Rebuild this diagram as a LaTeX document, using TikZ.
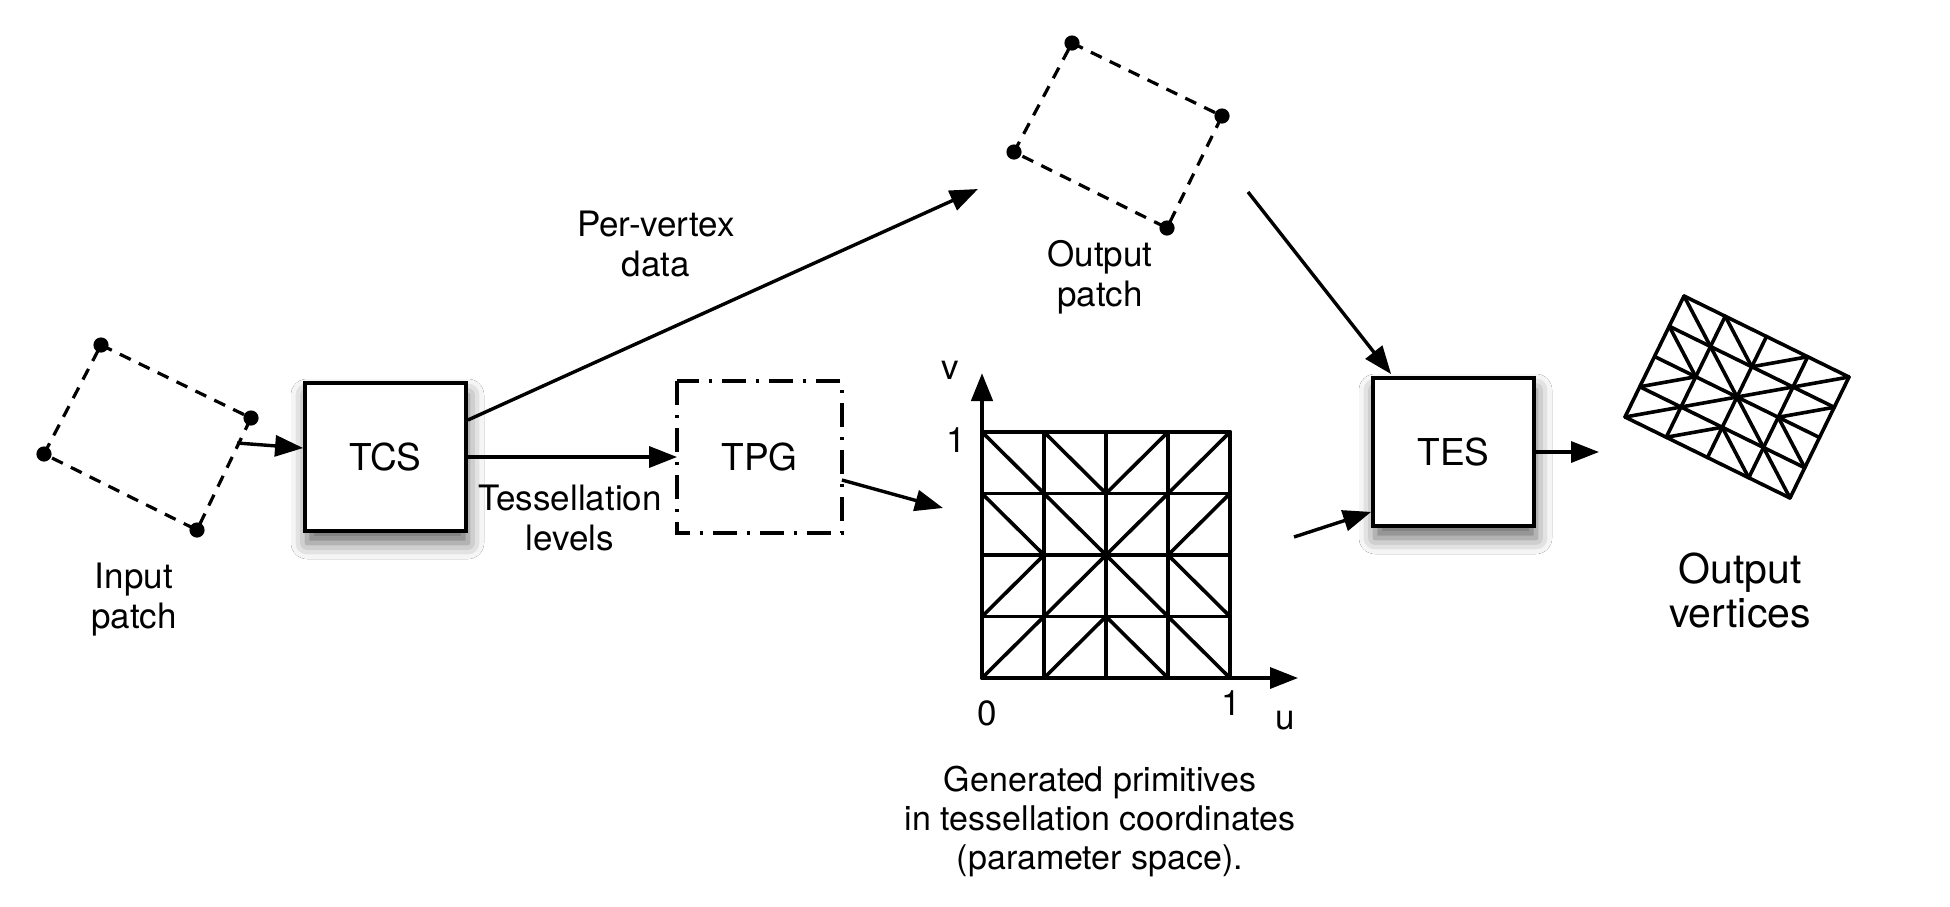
\documentclass[tikz,border=0pt]{standalone}
\usepackage{fontspec}
\setmainfont{TeX Gyre Heros}
\usetikzlibrary{arrows.meta,calc,shadows.blur}
\tikzset{
  box/.style={draw, line width=1.9pt, fill=white, minimum width=80.5pt, minimum height=74pt, inner sep=0pt, font=\fontsize{18.5}{22}\selectfont},
  shadowed/.style={blur shadow={shadow xshift=1pt, shadow yshift=-6pt, shadow blur radius=8pt, shadow opacity=60}},
  conn/.style={line width=1.7pt, -{Triangle[length=14pt,width=10.5pt]}},
  patchline/.style={line width=1.6pt, dash pattern=on 6pt off 4.5pt},
  meshline/.style={line width=1.8pt, line join=round, line cap=round},
  lbl/.style={align=center, inner sep=0pt, font=\fontsize{17.5}{20}\selectfont},
  dotmark/.style={fill=black},
}
\newcommand{\tessmesh}{%
  \foreach \k in {0,...,4}{\draw[meshline] (\k,0)--(\k,4); \draw[meshline] (0,\k)--(4,\k);}
  \draw[meshline] (0,0)--(4,4) (4,0)--(0,4)
    (1,0)--(2,1)--(3,0) (0,1)--(1,2)--(0,3)
    (4,1)--(3,2)--(4,3) (1,4)--(2,3)--(3,4);
}
\begin{document}
\begin{tikzpicture}[x=0.5pt,y=-0.5pt]
\useasboundingbox[fill=white] (0,0) rectangle (1950,906);

% input patch
\coordinate (ip1) at (101,345);
\coordinate (ip2) at (251,418);
\coordinate (ip3) at (197,530);
\coordinate (ip4) at (44,454);
\draw[patchline] (ip1)--(ip2)--(ip3)--(ip4)--cycle;
\foreach \p in {ip1,ip2,ip3,ip4}{\fill[dotmark] (\p) circle (3.8pt);}
\node[lbl] (iplbl) at (134,600) {Input\\patch};

% output patch
\coordinate (op1) at (1072,43);
\coordinate (op2) at (1222,116);
\coordinate (op3) at (1167,228);
\coordinate (op4) at (1014,152);
\draw[patchline] (op1)--(op2)--(op3)--(op4)--cycle;
\foreach \p in {op1,op2,op3,op4}{\fill[dotmark] (\p) circle (3.8pt);}
\node[lbl] (oplbl) at (1100,277) {Output\\patch};

% boxes
\node[box, shadowed] (tcs) at (385.5,457) {TCS};
\node[box, draw=none, fill=none] (tpg) at (759.5,457) {TPG};
\draw[line width=1.7pt, dash pattern=on 12pt off 5pt on 1.5pt off 5pt] (tpg.north west) rectangle (tpg.south east);
\node[box, shadowed] (tes) at (1453.5,452) {TES};

% labels
\node[lbl] (pvlbl) at (656,244) {Per-vertex\\data};
\node[lbl] (tllbl) at (570,518) {Tessellation\\levels};

% parameter grid
\begin{scope}[shift={(982,432)}, x={(31pt,0pt)}, y={(0pt,-30.75pt)}]
  \tessmesh
\end{scope}
\coordinate (g00) at (982,678);
\coordinate (vtip) at (982,373);
\coordinate (utip) at (1298,678);
\draw[conn, line width=2.3pt] (g00) -- (vtip);
\draw[conn] (g00) -- (utip);
\node[lbl] (vlbl) at (950,370) {v};
\node[lbl] (onev) at (956,440) {1};
\node[lbl] (zero) at (987,713) {0};
\node[lbl] (oneu) at (1231,703) {1};
\node[lbl] (ulbl) at (1285,721) {u};
\node[lbl, font=\fontsize{17}{19.5}\selectfont] (genlbl) at (1100,821) {Generated primitives\\in tessellation coordinates\\(parameter space).};

% output vertices mesh
\begin{scope}[shift={(1684,296)}, x={(20.625pt,-10.125pt)}, y={(-7.375pt,-15.125pt)}]
  \tessmesh
\end{scope}
\node[lbl, font=\fontsize{20.5}{22}\selectfont] (ovlbl) at (1740,590) {Output\\vertices};

% connectors
\coordinate (ipout) at (237,443);
\draw[conn] (ipout) -- ($(tcs.west)+(0,-9)$);
\coordinate (opin) at (978,189);
\draw[conn] ($(tcs.east)+(0,-37)$) -- (opin);
\draw[conn] (tcs.east) -- (tpg.west);
\coordinate (gin) at (943,508);
\draw[conn] ($(tpg.east)+(0,23)$) -- (gin);
\coordinate (opout) at (1248,192);
\draw[conn] (opout) -- ($(tes.north west)+(20,-2)$);
\coordinate (gout) at (1294,537);
\draw[conn] (gout) -- ($(tes.south west)+(0,-16)$);
\coordinate (ovin) at (1599,452);
\draw[conn] (tes.east) -- (ovin);
\end{tikzpicture}
\end{document}
